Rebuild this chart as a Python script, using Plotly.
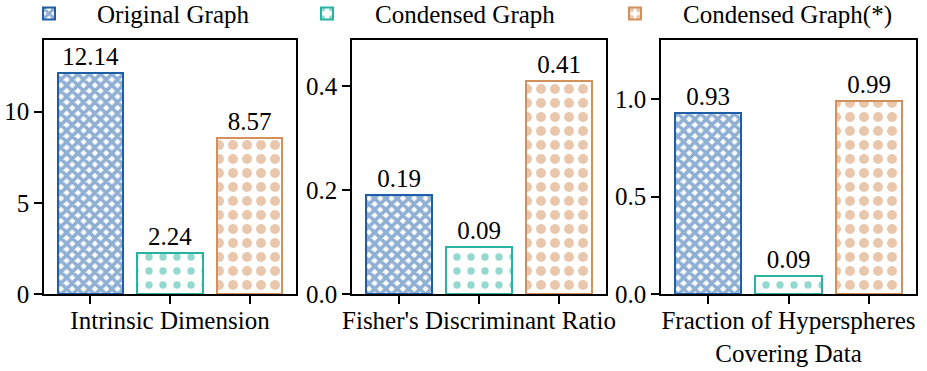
import plotly.graph_objects as go

series = ["Original Graph", "Condensed Graph", "Condensed Graph(*)"]
metrics = ["Intrinsic Dimension", "Fisher's Discriminant Ratio", "Fraction of Hyperspheres<br>Covering Data"]
intrinsic = [12.14, 2.24, 8.57]
fisher = [0.19, 0.09, 0.41]
fraction = [0.93, 0.09, 0.99]
values = [intrinsic, fisher, fraction]
labels = [["12.14", "2.24", "8.57"], ["0.19", "0.09", "0.41"], ["0.93", "0.09", "0.99"]]
y_tickvals = [[0, 5, 10], [0.0, 0.2, 0.4], [0.0, 0.5, 1.0]]
y_ticktext = [["0", "5", "10"], ["0.0", "0.2", "0.4"], ["0.0", "0.5", "1.0"]]
y_ranges = [[0, 13.93], [0, 0.488], [0, 1.303]]

colors = ["#1F5FA8", "#28B3A0", "#D3905B"]
shapes = ["x", ".", "."]
psize = [8, 14, 14]
psolid = [0.7, 0.22, 0.4]

W, H = 927, 371
FONT = "Liberation Serif"
FS = 25

x_domains = [(44, 296), (352, 606), (661, 916)]
y_dom = [(H - 294) / H, (H - 40) / H]
legend_names = ["legend", "legend2", "legend3"]
legend_px = [49, 327, 635]
ITEMW = 86

fig = go.Figure()
for p in range(3):
    xa = "x" if p == 0 else f"x{p+1}"
    ya = "y" if p == 0 else f"y{p+1}"
    for i in range(3):
        fig.add_trace(go.Bar(
            x=[i], y=[values[p][i]], name=series[i],
            xaxis=xa, yaxis=ya, width=0.82,
            showlegend=(p == 0), legend=legend_names[i],
            marker=dict(color="white",
                        line=dict(color=colors[i], width=2),
                        pattern=dict(shape=shapes[i], fgcolor=colors[i], bgcolor="white",
                                     size=psize[i], solidity=psolid[i])),
            text=[labels[p][i]], textposition="outside",
            textfont=dict(family=FONT, size=FS, color="black"),
            cliponaxis=False,
        ))

layout = dict(
    width=W, height=H, margin=dict(l=0, r=0, t=0, b=0, autoexpand=False),
    plot_bgcolor="white", paper_bgcolor="white",
    font=dict(family=FONT, size=FS, color="black"),
    showlegend=True, bargap=0,
)
for i, ln in enumerate(legend_names):
    layout[ln] = dict(orientation="h", x=(legend_px[i] - (ITEMW / 2 + 5)) / W, y=1.025,
                      xanchor="left", yanchor="top",
                      font=dict(family=FONT, size=FS), itemwidth=ITEMW,
                      bgcolor="rgba(0,0,0,0)")
for p in range(3):
    suffix = "" if p == 0 else str(p + 1)
    layout["xaxis" + suffix] = dict(
        domain=[x_domains[p][0] / W, x_domains[p][1] / W],
        anchor="y" + suffix, range=[-0.58, 2.58],
        tickvals=[0, 1, 2], ticktext=["", "", ""],
        ticks="outside", ticklen=8, tickwidth=1.5, tickcolor="black",
        showline=True, linecolor="black", linewidth=1.5, mirror=True,
        showgrid=False, zeroline=False, fixedrange=True, automargin=False,
        title=dict(text=metrics[p], standoff=4,
                   font=dict(family=FONT, size=FS)),
    )
    layout["yaxis" + suffix] = dict(
        domain=list(y_dom), anchor="x" + suffix, range=y_ranges[p],
        tickvals=y_tickvals[p], ticktext=y_ticktext[p],
        ticks="outside", ticklen=8, tickwidth=1.5, tickcolor="black",
        showline=True, linecolor="black", linewidth=1.5, mirror=True,
        showgrid=False, zeroline=False, automargin=False,
        tickfont=dict(family=FONT, size=FS),
    )
fig.update_layout(**layout)
fig.write_html("out.html", config={"displayModeBar": False},
               post_script="document.body.style.margin='0';")
